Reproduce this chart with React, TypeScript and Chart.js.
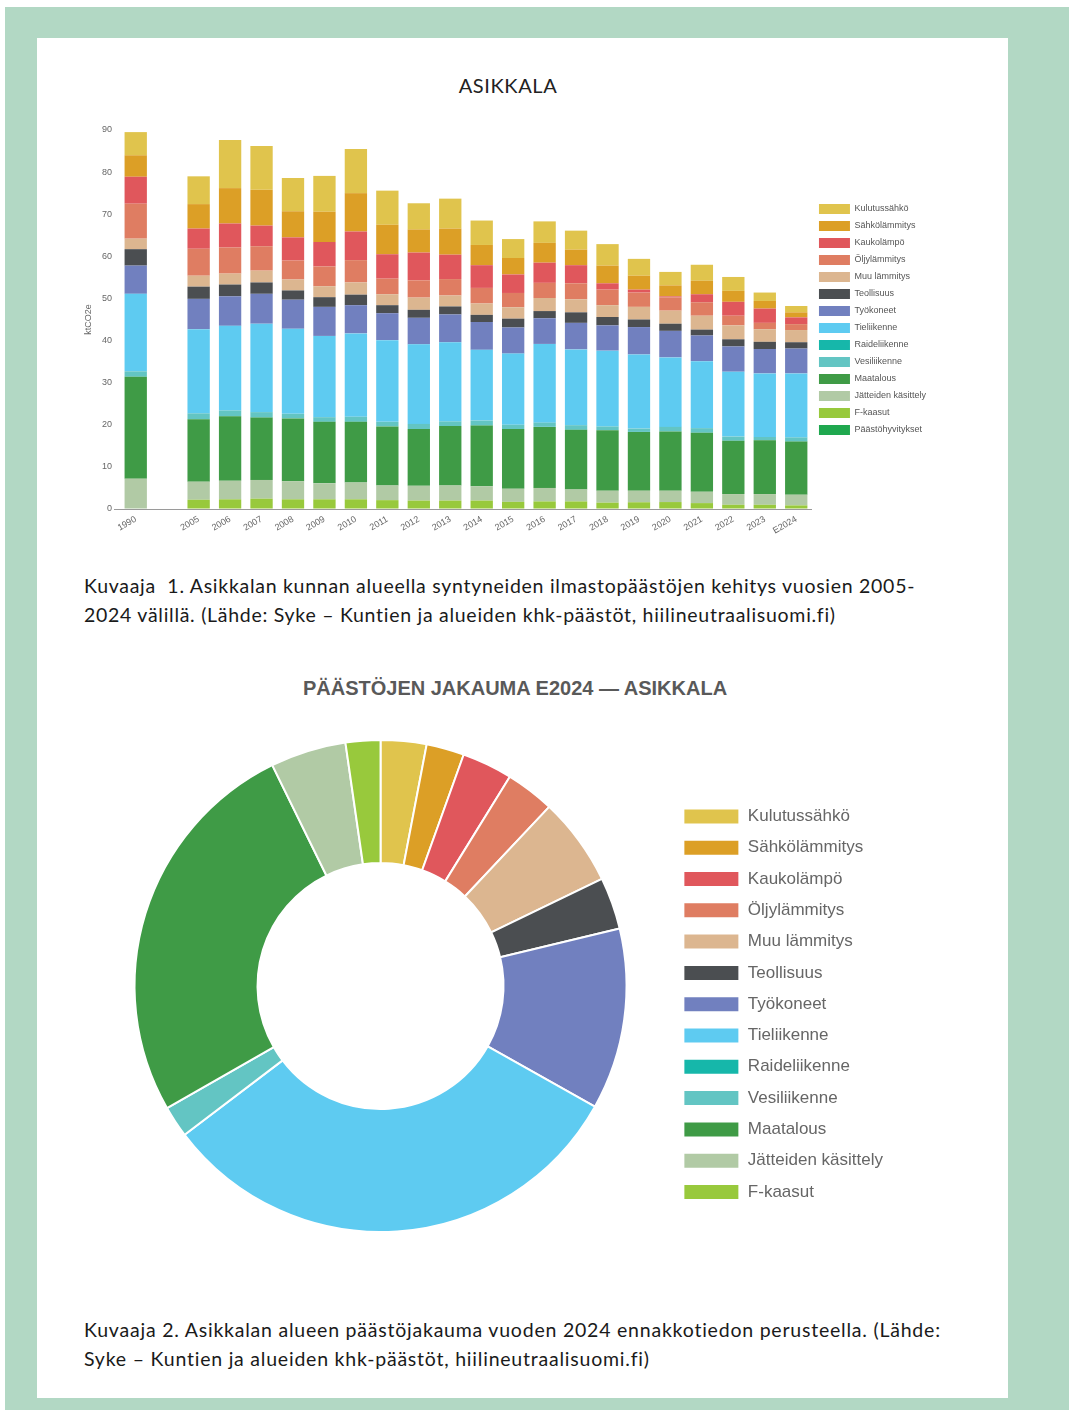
import React, { useEffect, useRef } from 'react';
import { Chart, registerables } from 'chart.js';

Chart.register(...registerables);
Chart.defaults.font.family = "'Liberation Sans', Arial, sans-serif";

// ---------- Bar chart data (ktCO2e) ----------
const years = ['1990', '', '2005', '2006', '2007', '2008', '2009', '2010', '2011', '2012', '2013', '2014', '2015', '2016', '2017', '2018', '2019', '2020', '2021', '2022', '2023', 'E2024'];

const kulutussahko = [5.5, null, 6.6, 11.4, 10.4, 7.9, 8.5, 10.5, 8.1, 6.2, 7.1, 5.8, 4.5, 5.1, 4.5, 5.1, 4.0, 3.2, 3.8, 3.3, 2.0, 1.5];
const sahkolammitys = [5.1, null, 5.8, 8.4, 8.5, 6.2, 7.2, 9.1, 7.0, 5.5, 6.2, 4.8, 3.9, 4.7, 3.7, 4.2, 3.3, 2.6, 3.2, 2.6, 1.8, 1.2];
const kaukolampo = [6.4, null, 4.8, 5.7, 4.9, 5.5, 5.8, 6.8, 5.8, 6.6, 5.8, 5.4, 4.4, 4.8, 4.3, 1.5, 0.7, 0.25, 1.9, 3.3, 3.4, 1.6];
const oljylammitys = [8.3, null, 6.4, 6.2, 5.8, 4.5, 4.7, 5.3, 3.7, 4.1, 3.9, 3.7, 3.4, 3.6, 3.8, 3.7, 3.4, 3.15, 3.2, 2.3, 1.5, 1.4];
const muuLammitys = [2.5, null, 2.6, 2.6, 2.8, 2.6, 2.6, 2.9, 2.6, 2.9, 2.6, 2.7, 2.7, 3.1, 3.1, 2.8, 3.0, 3.1, 3.3, 3.3, 3.0, 2.9];
const teollisuus = [3.9, null, 2.9, 2.8, 2.7, 2.2, 2.3, 2.5, 1.9, 1.9, 1.9, 1.7, 2.1, 1.7, 2.5, 2.0, 1.8, 1.7, 1.4, 1.7, 1.7, 1.5];
const tyokoneet = [6.7, null, 7.2, 7.0, 7.1, 6.9, 6.9, 6.7, 6.4, 6.3, 6.6, 6.6, 6.2, 6.1, 6.3, 6.0, 6.5, 6.3, 6.1, 6.0, 5.8, 5.9];
const tieliikenne = [18.4, null, 20.0, 20.1, 21.0, 20.2, 19.3, 19.8, 19.4, 18.9, 18.8, 16.8, 16.9, 18.7, 18.0, 18.0, 17.6, 16.5, 15.9, 15.4, 15.1, 15.2];
const raideliikenne = [0, null, 0, 0, 0, 0, 0, 0, 0, 0, 0, 0, 0, 0, 0, 0, 0, 0, 0, 0, 0, 0];
const vesiliikenne = [1.3, null, 1.4, 1.4, 1.3, 1.1, 1.1, 1.2, 1.1, 1.2, 1.1, 1.2, 1.0, 1.0, 1.1, 0.9, 0.8, 1.1, 1.1, 1.0, 0.8, 1.0];
const maatalous = [24.2, null, 14.8, 15.3, 14.8, 14.9, 14.6, 14.4, 14.0, 13.5, 14.1, 14.4, 14.2, 14.5, 14.15, 14.35, 13.95, 14.05, 14.0, 12.65, 12.75, 12.6];
const jatteet = [7.2, null, 4.3, 4.4, 4.45, 4.3, 3.8, 4.0, 3.5, 3.5, 3.6, 3.4, 3.1, 3.2, 2.85, 2.85, 2.75, 2.7, 2.7, 2.55, 2.55, 2.55];
const fKaasut = [0, null, 2.2, 2.3, 2.45, 2.3, 2.3, 2.3, 2.1, 2.0, 2.0, 2.0, 1.7, 1.8, 1.8, 1.5, 1.6, 1.65, 1.4, 1.0, 1.0, 0.85];
const paastohyvitykset = [0, null, 0, 0, 0, 0, 0, 0, 0, 0, 0, 0, 0, 0, 0, 0, 0, 0, 0, 0, 0, 0];

const yTicks = [0, 10, 20, 30, 40, 50, 60, 70, 80, 90];

// ---------- Doughnut data (E2024, ktCO2e) ----------
const pieLabels = ['Kulutussähkö', 'Sähkölämmitys', 'Kaukolämpö', 'Öljylämmitys', 'Muu lämmitys', 'Teollisuus', 'Työkoneet', 'Tieliikenne', 'Raideliikenne', 'Vesiliikenne', 'Maatalous', 'Jätteiden käsittely', 'F-kaasut'];
const pieValues = [1.45, 1.2, 1.6, 1.55, 2.8, 1.65, 5.75, 15.2, 0, 1.0, 12.55, 2.4, 1.1];

const COLORS: Record<string, string> = {
  'Kulutussähkö': '#e0c44d',
  'Sähkölämmitys': '#dc9f26',
  'Kaukolämpö': '#e0575c',
  'Öljylämmitys': '#df7d62',
  'Muu lämmitys': '#dcb690',
  'Teollisuus': '#4b4e51',
  'Työkoneet': '#7180bf',
  'Tieliikenne': '#5ecbf1',
  'Raideliikenne': '#16b7aa',
  'Vesiliikenne': '#63c5c3',
  'Maatalous': '#3f9b46',
  'Jätteiden käsittely': '#b1caa5',
  'F-kaasut': '#98c93c',
  'Päästöhyvitykset': '#1fa84f',
};

// stacked bottom-first
const barSeries: [string, (number | null)[]][] = [
  ['Päästöhyvitykset', paastohyvitykset],
  ['F-kaasut', fKaasut],
  ['Jätteiden käsittely', jatteet],
  ['Maatalous', maatalous],
  ['Vesiliikenne', vesiliikenne],
  ['Raideliikenne', raideliikenne],
  ['Tieliikenne', tieliikenne],
  ['Työkoneet', tyokoneet],
  ['Teollisuus', teollisuus],
  ['Muu lämmitys', muuLammitys],
  ['Öljylämmitys', oljylammitys],
  ['Kaukolämpö', kaukolampo],
  ['Sähkölämmitys', sahkolammitys],
  ['Kulutussähkö', kulutussahko],
];

function BarChart() {
  const ref = useRef<HTMLCanvasElement>(null);
  useEffect(() => {
    const chart = new Chart(ref.current as HTMLCanvasElement, {
      type: 'bar',
      data: {
        labels: years,
        datasets: barSeries.map(([name, data]) => ({
          label: name,
          data: data as any,
          backgroundColor: COLORS[name],
          borderWidth: 0,
          barPercentage: 0.71,
          categoryPercentage: 1.0,
        })),
      },
      options: {
        responsive: false,
        animation: false,
        devicePixelRatio: 1,
        layout: { padding: { top: 70, right: 14, left: 0, bottom: 0 } },
        plugins: {
          tooltip: { enabled: false },
          legend: {
            position: 'right',
            fullSize: false,
            reverse: true,
            labels: {
              boxWidth: 31,
              boxHeight: 10,
              padding: 7,
              color: '#555',
              font: { size: 9 },
            },
          },
        },
        scales: {
          x: {
            stacked: true,
            grid: { display: false, drawTicks: false },
            border: { display: true, color: '#9a9a9a', width: 1 },
            ticks: {
              color: '#666',
              font: { size: 9 },
              minRotation: 30,
              maxRotation: 30,
              autoSkip: false,
              padding: 5,
            },
            afterFit: (s: any) => { s.height = 40; },
          },
          y: {
            stacked: true,
            min: 0,
            max: 90,
            afterBuildTicks: (s: any) => { s.ticks = yTicks.map((v) => ({ value: v })); },
            grid: {
              display: true,
              drawOnChartArea: false,
              drawTicks: true,
              tickLength: 6,
              color: (c: any) => (c.tick && c.tick.value === 0 ? '#9a9a9a' : 'rgba(0,0,0,0)'),
            },
            border: { display: false },
            ticks: { color: '#666', font: { size: 9 }, padding: 2 },
            title: { display: true, text: 'ktCO2e', color: '#666', font: { size: 9 }, padding: { top: 3, bottom: 0 } },
            afterFit: (s: any) => { s.width = 40; },
          },
        },
      } as any,
    });
    return () => chart.destroy();
  }, []);
  return (
    <canvas
      ref={ref}
      width={870}
      height={489}
      style={{ position: 'absolute', left: 80, top: 60, width: 870, height: 489 }}
    />
  );
}

function DoughnutChart() {
  const ref = useRef<HTMLCanvasElement>(null);
  useEffect(() => {
    const chart = new Chart(ref.current as HTMLCanvasElement, {
      type: 'doughnut',
      data: {
        labels: pieLabels,
        datasets: [
          {
            data: pieValues,
            backgroundColor: pieLabels.map((l) => COLORS[l]),
            borderColor: '#ffffff',
            borderWidth: 2,
          },
        ],
      },
      options: {
        responsive: false,
        animation: false,
        devicePixelRatio: 1,
        cutout: '50%',
        layout: { padding: 0 },
        plugins: {
          tooltip: { enabled: false },
          legend: {
            position: 'right',
            title: { display: true, text: '', font: { size: 12 }, padding: 11 },
            labels: {
              boxWidth: 56,
              boxHeight: 16,
              padding: 14.3,
              color: '#666',
              font: { size: 17 },
            },
          },
        },
      } as any,
    });
    return () => chart.destroy();
  }, []);
  return (
    <canvas
      ref={ref}
      width={801}
      height={494}
      style={{ position: 'absolute', left: 92, top: 739, width: 801, height: 494 }}
    />
  );
}

const captionStyle: React.CSSProperties = {
  position: 'absolute',
  left: 84,
  fontFamily: "Lato, 'Open Sans', sans-serif",
  fontSize: 19.5,
  letterSpacing: '0.72px',
  lineHeight: '29px',
  color: '#1a1a1a',
  whiteSpace: 'nowrap',
};

export default function App() {
  return (
    <div style={{ position: 'absolute', left: 0, top: 0, width: 1074, height: 1414, background: '#ffffff', overflow: 'hidden' }}>
      <style>{'body{margin:0}'}</style>
      <div style={{ position: 'absolute', left: 5, top: 7, width: 1064, height: 1403, background: '#b2d8c4' }} />
      <div style={{ position: 'absolute', left: 37, top: 38, width: 971, height: 1360, background: '#ffffff' }} />
      <div
        style={{
          position: 'absolute', left: 358, top: 73, width: 300, textAlign: 'center',
          fontFamily: "Lato, sans-serif", fontSize: 20, lineHeight: '24px', color: '#222', letterSpacing: 0.6,
        }}
      >
        ASIKKALA
      </div>
      <BarChart />
      <div style={{ ...captionStyle, top: 571 }}>
        <div>Kuvaaja&nbsp; 1. Asikkalan kunnan alueella syntyneiden ilmastopäästöjen kehitys vuosien 2005-</div>
        <div>2024 välillä. (Lähde: Syke – Kuntien ja alueiden khk-päästöt, hiilineutraalisuomi.fi)</div>
      </div>
      <div
        style={{
          position: 'absolute', left: 215, top: 676, width: 600, textAlign: 'center',
          fontFamily: "'Liberation Sans', Arial, sans-serif", fontWeight: 'bold', fontSize: 20, lineHeight: '24px', color: '#595959',
        }}
      >
        PÄÄSTÖJEN JAKAUMA E2024 — ASIKKALA
      </div>
      <DoughnutChart />
      <div style={{ ...captionStyle, top: 1315, letterSpacing: '0.78px' }}>
        <div>Kuvaaja 2. Asikkalan alueen päästöjakauma vuoden 2024 ennakkotiedon perusteella. (Lähde:</div>
        <div>Syke – Kuntien ja alueiden khk-päästöt, hiilineutraalisuomi.fi)</div>
      </div>
    </div>
  );
}
